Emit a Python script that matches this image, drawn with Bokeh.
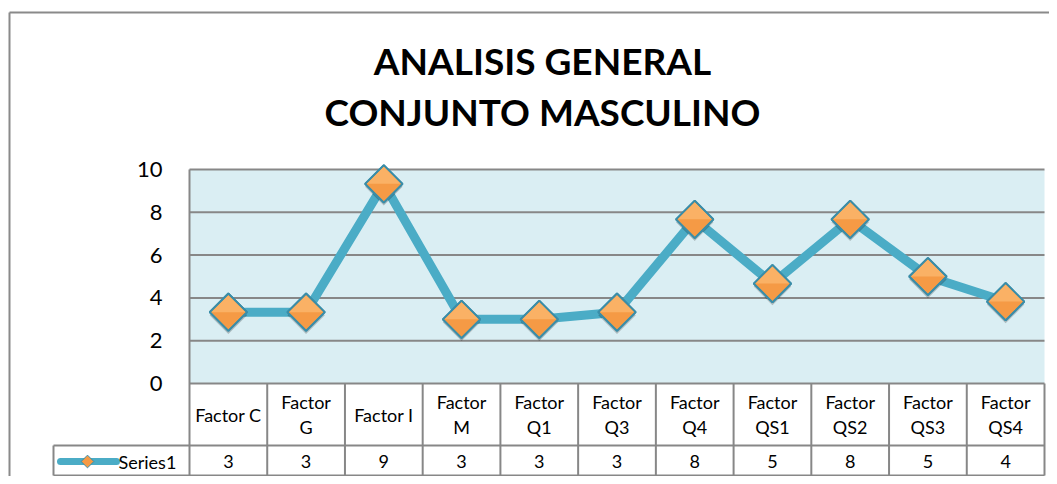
import numpy as np
from bokeh.plotting import figure
from bokeh.models import Range1d
from bokeh.core.properties import value
from bokeh.embed import file_html
from bokeh.resources import INLINE

# ---------------- data ----------------
categories = ["Factor C", "Factor G", "Factor I", "Factor M", "Factor Q1", "Factor Q3",
              "Factor Q4", "Factor QS1", "Factor QS2", "Factor QS3", "Factor QS4"]
tick_labels = ["Factor C", "Factor\nG", "Factor I", "Factor\nM", "Factor\nQ1", "Factor\nQ3",
               "Factor\nQ4", "Factor\nQS1", "Factor\nQS2", "Factor\nQS3", "Factor\nQS4"]
series1 = [3.33, 3.33, 9.33, 3.0, 3.0, 3.33, 7.67, 4.67, 7.67, 5.0, 3.83]
y_ticks = [0, 2, 4, 6, 8, 10]
title_lines = ["ANALISIS GENERAL", "CONJUNTO MASCULINO"]
series_name = "Series1"

# ---------------- geometry (picture pixels -> data) ----------------
W, H = 1049, 476
OX, OY = 0, 0
PL, PR, PT, PB = 189, 1044, 169, 383
n = len(categories)
cw = (PR - PL) / n
ph = (PB - PT) / 10.0


def xd(px):
    return -0.5 + (px - PL) / cw


def yd(py):
    return (PB - py) / ph


FONT = "Lato"
GRID = "#878787"
LINE = "#4BACC6"

p = figure(width=W, height=H,
           x_range=Range1d(xd(OX), xd(OX + W)),
           y_range=Range1d(yd(OY + H), yd(OY)),
           output_backend="svg", toolbar_location=None, min_border=0,
           x_axis_location=None, y_axis_location=None,
           outline_line_color=None, background_fill_color="white",
           border_fill_color="white")
p.xgrid.visible = False
p.ygrid.visible = False

xs = list(range(n))
x_lo, x_hi = -0.5, n - 0.5
tab_mid = yd(445)
tab_bot = yd(475)
leg_left = xd(53)

# outer chart border
p.segment(x0=[xd(9), xd(9)], y0=[yd(12), yd(12)], x1=[xd(9), xd(1100)], y1=[yd(600), yd(12)],
          line_color="#8a8a8a", line_width=2)

# plot area background
p.quad(left=[x_lo], right=[x_hi], bottom=[0], top=[10], fill_color="#DAEEF3", line_color=None)

# horizontal gridlines
gy = [t for t in y_ticks if t > 0]
p.segment(x0=[x_lo] * len(gy), x1=[x_hi] * len(gy), y0=gy, y1=gy, line_color=GRID, line_width=2)

# table lines
hx0 = [x_lo, leg_left, leg_left]
hx1 = [x_hi, x_hi, x_hi]
hy = [0, tab_mid, tab_bot]
p.segment(x0=hx0, x1=hx1, y0=hy, y1=hy, line_color=GRID, line_width=2)
vx = [i - 0.5 for i in range(n + 1)]
vy0 = [10] + [0] * n
p.segment(x0=vx, x1=vx, y0=vy0, y1=[tab_bot] * len(vx), line_color=GRID, line_width=2)
p.segment(x0=[leg_left], x1=[leg_left], y0=[tab_mid], y1=[tab_bot], line_color=GRID, line_width=2)

# y tick labels
p.text(x=[xd(162)] * len(y_ticks), y=y_ticks, text=[str(t) for t in y_ticks],
       text_align="right", text_baseline="middle", text_font=value(FONT),
       text_font_size="22px", text_color="black")

# title
p.text(x=[xd(542)] * 2, y=[yd(60), yd(111)], text=title_lines,
       text_align="center", text_baseline="middle", text_font=value(FONT),
       text_font_style="bold", text_font_size="37px", text_color="black")

# series line
p.line(xs, series1, line_color=LINE, line_width=9, line_join="round", line_cap="round")

# markers: shadow, body, highlight
hd = 18.6
dx = hd / cw
dy = hd / ph
p.scatter(xs, [v - 3.0 / ph for v in series1], marker="square", size=26.5,
          angle=np.pi / 4, fill_color="black", fill_alpha=0.22, line_color=None)
p.scatter(xs, series1, marker="square", size=26.5, angle=np.pi / 4,
          fill_color="#F59A45", line_color="#3A8DA8", line_width=1.8)
p.patches(xs=[[x - dx * 0.92, x, x + dx * 0.92] for x in xs],
          ys=[[v, v + dy * 0.92, v] for v in series1],
          fill_color="#FBB468", fill_alpha=0.9, line_color=None)
p.scatter(xs, series1, marker="square", size=26.5, angle=np.pi / 4,
          fill_color=None, line_color="#3A8DA8", line_width=1.8)

# table category labels
p.text(x=xs, y=[yd(414)] * n, text=tick_labels, text_align="center", text_baseline="middle",
       text_font=value(FONT), text_font_size="18px", text_color="black", text_line_height=1.15)

# table values
p.text(x=xs, y=[yd(461)] * n, text=[str(int(round(v))) for v in series1],
       text_align="center", text_baseline="middle", text_font=value(FONT),
       text_font_size="18px", text_color="black")

# legend key in table
ly = yd(461)
p.line([xd(60), xd(116)], [ly, ly], line_color=LINE, line_width=7, line_cap="round")
p.scatter([xd(87)], [ly], marker="square", size=9, angle=np.pi / 4,
          fill_color="#F59A45", line_color="#3A8DA8", line_width=1)
p.text(x=[xd(118)], y=[ly], text=[series_name], text_align="left", text_baseline="middle",
       text_font=value(FONT), text_font_size="18px", text_color="black")

open("out.html", "w").write(file_html(p, INLINE))
